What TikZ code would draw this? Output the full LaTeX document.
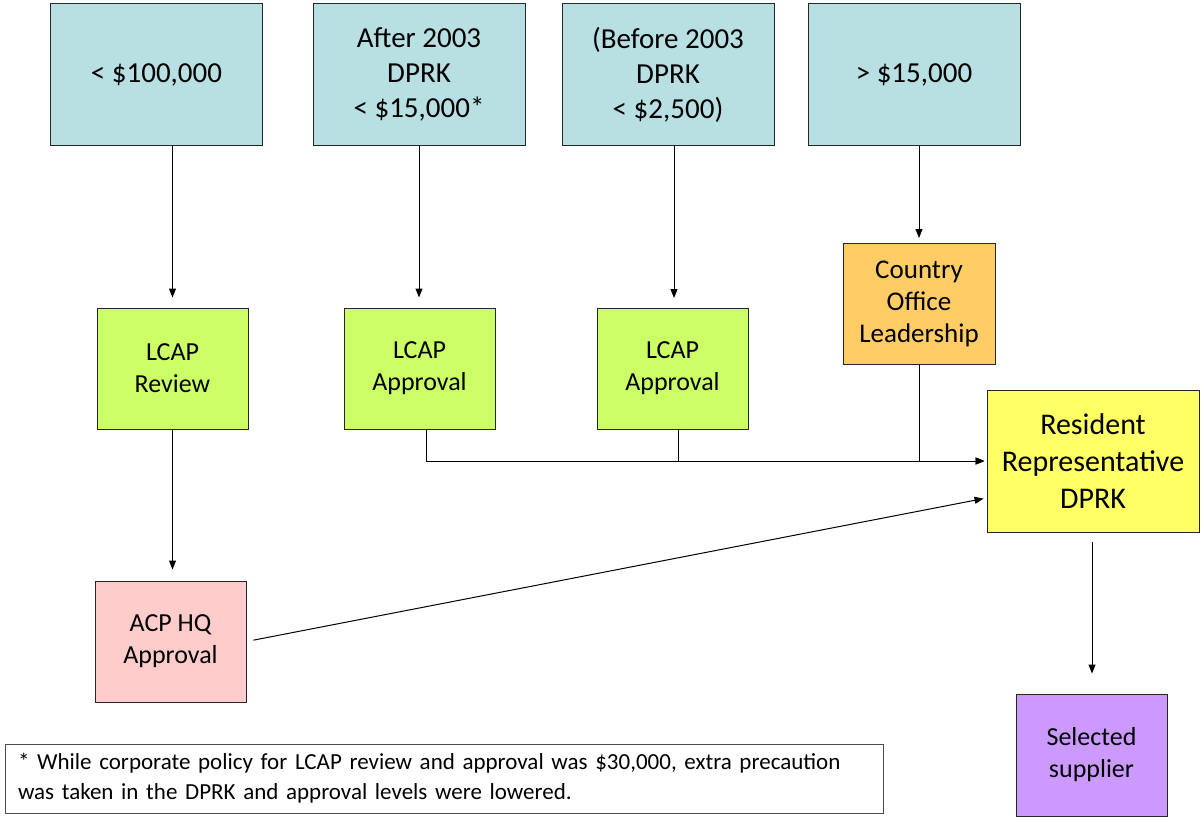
\documentclass[tikz,border=0pt]{standalone}
\usepackage{fontspec}
\setmainfont{Carlito}
\usetikzlibrary{arrows.meta}
\definecolor{limitblue}{HTML}{B8E0E3}
\definecolor{lcapgreen}{HTML}{CCFF66}
\definecolor{leadorange}{HTML}{FFCC66}
\definecolor{repyellow}{HTML}{FFFF66}
\definecolor{hqpink}{HTML}{FFCCCC}
\definecolor{supppurple}{HTML}{CC99FF}

\begin{document}
\begin{tikzpicture}[x=1pt,y=-1pt,
	box/.style={draw=black!85,line width=1pt,align=center,inner sep=0pt},
	limit/.style={box,fill=limitblue,minimum width=212pt,minimum height=141pt,font=\fontsize{29}{35}\selectfont},
	small/.style={box,minimum width=151pt,minimum height=121pt,font=\fontsize{26}{32}\selectfont},
	arr/.style={-{Triangle[length=9pt,width=7pt]},line width=1pt}]
	\useasboundingbox (0,0) rectangle (1201,816);

	\node[limit] (lim100) at (156.5,74.5) {< \$100,000};
	\node[limit] (after) at (419,74.5) {After 2003\\DPRK\\< \$15,000*};
	\node[limit] (before) at (668,74.5) {(Before 2003\\DPRK\\< \$2,500)};
	\node[limit] (over15) at (914,74.5) {> \$15,000};

	\node[small,fill=lcapgreen] (review) at (172.5,368.5) {LCAP\\Review};
	\node[small,fill=lcapgreen] (appr1) at (419.5,368.5) {LCAP\\Approval};
	\node[small,fill=lcapgreen] (appr2) at (672.5,368.5) {LCAP\\Approval};
	\node[small,fill=leadorange,minimum width=152pt,font=\fontsize{27}{32}\selectfont] (colead) at (919,304) {Country\\Office\\Leadership};
	\node[box,fill=repyellow,minimum width=212pt,minimum height=142pt,font=\fontsize{30}{37}\selectfont] (resrep) at (1093,461) {Resident\\Representative\\DPRK};
	\node[small,fill=hqpink] (acphq) at (170.5,641.5) {ACP HQ\\Approval};
	\node[small,fill=supppurple,minimum height=122pt] (supplier) at (1091.5,755) {Selected\\supplier};

	\node[box,draw=black!70,minimum width=878pt,minimum height=69pt,text width=852pt,align=left,font=\fontsize{23}{30}\selectfont] (note) at (444,778.5) {* While corporate policy for LCAP review and approval was \$30,000, extra precaution\\was taken in the DPRK and approval levels were lowered.};

	\draw[arr,shorten >=10pt] (lim100.south -| review.north) -- (review.north);
	\draw[arr,shorten >=10pt] (after.south) -- (after.south |- appr1.north);
	\draw[arr,shorten >=10pt] (before.south -| 674,0) -- (674,308);
	\draw[arr,shorten >=5pt] (colead.north |- over15.south) -- (colead.north);
	\draw[arr,shorten >=11pt] (review.south) -- (acphq.north -| review.south);
	\draw[arr,shorten <=9pt,shorten >=20pt] (resrep.south -| 1092,0) -- (supplier.north -| 1092,0);

	\draw[arr,shorten >=2pt] (appr1.south -| 426,0) |- (resrep.west);
	\draw[line width=1pt] (appr2.south -| 678,0) -- (678,461);
	\draw[arr,shorten >=2pt] (colead.south) |- (resrep.west);
	\draw[arr,shorten <=7pt,shorten >=3pt] (acphq.east) -- ([yshift=-37pt]resrep.west);
\end{tikzpicture}
\end{document}
